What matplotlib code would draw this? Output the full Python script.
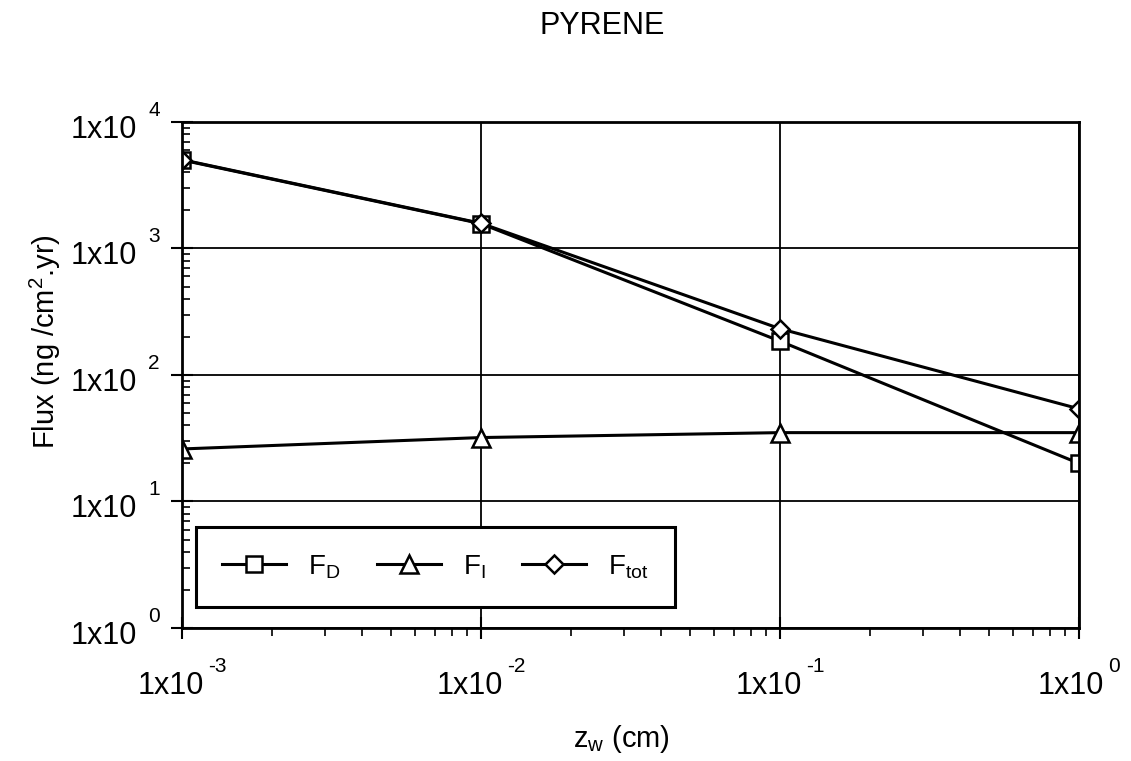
import matplotlib.pyplot as plt
from matplotlib.ticker import LogLocator, FixedLocator, NullFormatter
from matplotlib.offsetbox import TextArea, HPacker, VPacker, DrawingArea, AnnotationBbox

plt.rcParams['font.family'] = ['Liberation Sans', 'DejaVu Sans']
plt.rcParams['mathtext.fontset'] = 'custom'
plt.rcParams['mathtext.rm'] = 'Liberation Sans'
plt.rcParams['mathtext.it'] = 'Liberation Sans'

# depth z_w (cm) and flux values (ng/cm2.yr)
zw = [1e-3, 1e-2, 1e-1, 1e0]
f_d = [5000, 1570, 185, 20]
f_i = [26, 32, 35, 35]
f_tot = [5030, 1580, 232, 54]

xticks = [1e-3, 1e-2, 1e-1, 1e0]
xtick_exp = ['-3', '-2', '-1', '0']
yticks = [1e0, 1e1, 1e2, 1e3, 1e4]
ytick_exp = ['0', '1', '2', '3', '4']


def power_label(ax, exp, xy, coords, align, offset, gap):
    # "1x10" with a raised exponent, like the old plotting packages did
    main = TextArea('1x10', textprops=dict(size=22))
    sup = TextArea(exp, textprops=dict(size=15))
    sup_box = VPacker(children=[sup, DrawingArea(1, 18)], pad=0, sep=0)
    box = HPacker(children=[main, sup_box], align='bottom', pad=0, sep=gap)
    ab = AnnotationBbox(box, xy, xycoords=coords, box_alignment=align,
                        xybox=offset, boxcoords='offset points',
                        frameon=False, annotation_clip=False, pad=0)
    ax.add_artist(ab)


fig = plt.figure(figsize=(11.31, 7.61), dpi=100)
ax = fig.add_axes([0.1609, 0.1748, 0.7931, 0.665])

style = dict(color='black', lw=2.2, mfc='white', mec='black', mew=1.8)
ax.plot(zw, f_d, marker='s', ms=12, label='F$_\\mathregular{D}$', **style)
ax.plot(zw, f_i, marker='^', ms=13, label='F$_\\mathregular{I}$', **style)
ax.plot(zw, f_tot, marker='D', ms=9.5, label='F$_\\mathregular{tot}$', **style)

ax.set_xscale('log')
ax.set_yscale('log')
ax.set_xlim(1e-3, 1e0)
ax.set_ylim(1e0, 1e4)

ax.xaxis.set_major_locator(FixedLocator(xticks))
ax.yaxis.set_major_locator(FixedLocator(yticks))
ax.xaxis.set_minor_locator(LogLocator(base=10, subs=range(2, 10)))
ax.yaxis.set_minor_locator(LogLocator(base=10, subs=range(2, 10)))
for axis in (ax.xaxis, ax.yaxis):
    axis.set_major_formatter(NullFormatter())
    axis.set_minor_formatter(NullFormatter())

for xt, e in zip(xticks, xtick_exp):
    power_label(ax, e, (xt, 0), ('data', 'axes fraction'), (0.5, 1), (0, -21), 3)
for yt, e in zip(yticks, ytick_exp):
    power_label(ax, e, (0, yt), ('axes fraction', 'data'), (1, 0), (-16, -16.5), 8)

ax.tick_params(which='major', direction='inout', length=16, width=1.5)
ax.tick_params(axis='x', which='minor', direction='out', length=6, width=1.2)
ax.tick_params(axis='y', which='minor', direction='in', length=6, width=1.2)
ax.grid(True, which='major', color='black', lw=1.3)
for sp in ax.spines.values():
    sp.set_linewidth(2)

ax.set_xlabel('z$_\\mathregular{w}$ (cm)', fontsize=21)
ax.xaxis.label.set_va('center')
ax.xaxis.set_label_coords(0.49, -0.22)
ax.set_ylabel('Flux (ng /cm$^\\mathregular{2}$.yr)', fontsize=21)
ax.yaxis.label.set_va('center')
ax.yaxis.set_label_coords(-0.152, 0.567)
fig.text(0.532, 0.966, 'PYRENE', fontsize=22, ha='center', va='center')

leg = ax.legend(loc='lower left', bbox_to_anchor=(0.0156, 0.0415), borderaxespad=0,
                ncol=3, fontsize=20, handlelength=2.3, handletextpad=0.8,
                columnspacing=1.3, borderpad=0.95,
                fancybox=False, framealpha=1, edgecolor='black')
leg.get_frame().set_linewidth(2.2)

fig.savefig('out.png', dpi=100)
